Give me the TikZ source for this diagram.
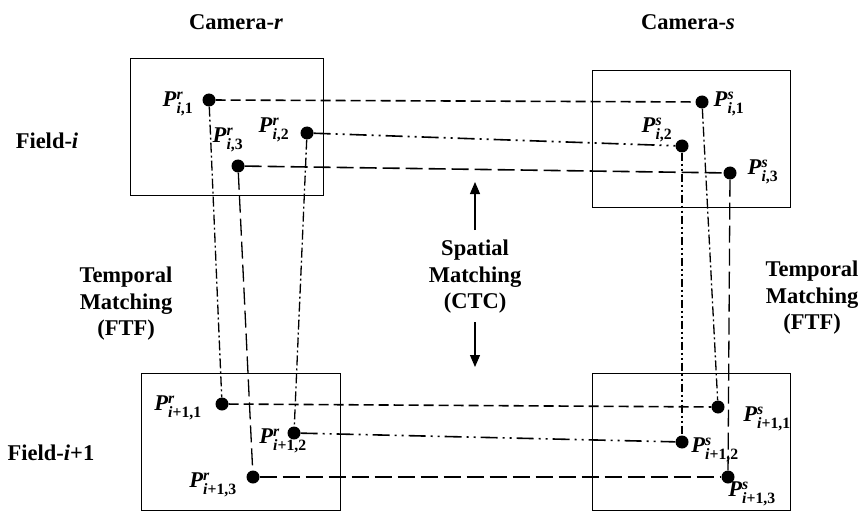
\documentclass[tikz,border=0pt]{standalone}
\usepackage{amsmath}
\usepackage{fontspec}
\setmainfont{Liberation Serif}
\usetikzlibrary{arrows.meta}
\tikzset{
  dot/.style={circle,fill=black,inner sep=0pt,minimum size=13pt},
  lbl/.style={font=\fontsize{22.5}{26.5}\selectfont\bfseries,inner sep=0pt,align=center},
  frame/.style={draw=black,line width=1.1pt,inner sep=0pt,anchor=north west},
  shortdash/.style={line width=1.6pt,dash pattern=on 10pt off 5pt},
  longdash/.style={line width=1.6pt,dash pattern=on 17pt off 6pt},
  dashdotdot/.style={line width=1.6pt,dash pattern=on 17pt off 5pt on 2pt off 5pt on 2pt off 5pt},
  dashdot/.style={line width=1.3pt,dash pattern=on 10pt off 3pt on 2pt off 3pt},
  vdashdotdot/.style={line width=1.3pt,dash pattern=on 8pt off 3pt on 2pt off 3pt on 2pt off 3pt},
  arr/.style={line width=1.1pt,-{Triangle[length=12pt,width=10pt]}}
}
\newcommand{\Pl}[2]{\textit{P}$^{\text{\bfseries\itshape #1}}_{\text{\bfseries #2}}$}
\begin{document}
\begin{tikzpicture}[x=1pt,y=-1pt]
\useasboundingbox (0,0) rectangle (861,513);
% frames
\node[frame,minimum width=193pt,minimum height=137pt] (boxTL) at (130,58) {};
\node[frame,minimum width=198pt,minimum height=137pt] (boxTR) at (592,70) {};
\node[frame,minimum width=199pt,minimum height=137pt] (boxBL) at (141,373) {};
\node[frame,minimum width=198pt,minimum height=137pt] (boxBR) at (592,373) {};
% titles
\node[lbl] (camr) at (236,22) {Camera-\textit{r}};
\node[lbl] (cams) at (688,22) {Camera-\textit{s}};
\node[lbl] (fi) at (47,141) {Field-\textit{i}};
\node[lbl] (fi1) at (51,453) {Field-\textit{i}+1};
\node[lbl] (tl) at (126,304) {Temporal\\Matching\\(FTF)};
\node[lbl] (tr) at (812,298) {Temporal\\Matching\\(FTF)};
\node[lbl] (sp) at (475,277) {Spatial\\Matching\\(CTC)};
% dots
\node[dot] (r1) at (209,100) {};
\node[dot] (r2) at (307,133) {};
\node[dot] (r3) at (238,166) {};
\node[dot] (s1) at (702,102) {};
\node[dot] (s2) at (682,146) {};
\node[dot] (s3) at (730,173) {};
\node[dot] (R1) at (222,404) {};
\node[dot] (R2) at (294,433) {};
\node[dot] (R3) at (253,477) {};
\node[dot] (S1) at (718,407) {};
\node[dot] (S2) at (682,442) {};
\node[dot] (S3) at (728,477) {};
% point labels
\node[lbl] (lr1) at (178,104) {\Pl{r}{\textit{i},1}};
\node[lbl] (lr2) at (274,130) {\Pl{r}{\textit{i},2}};
\node[lbl] (lr3) at (228,140) {\Pl{r}{\textit{i},3}};
\node[lbl] (ls1) at (729,104) {\Pl{s}{\textit{i},1}};
\node[lbl] (ls2) at (657,130) {\Pl{s}{\textit{i},2}};
\node[lbl] (ls3) at (763,172) {\Pl{s}{\textit{i},3}};
\node[lbl] (lR1) at (178,408) {\Pl{r}{\textit{i}+1,1}};
\node[lbl] (lR2) at (283,441) {\Pl{r}{\textit{i}+1,2}};
\node[lbl] (lR3) at (213,485) {\Pl{r}{\textit{i}+1,3}};
\node[lbl] (lS1) at (767,419) {\Pl{s}{\textit{i}+1,1}};
\node[lbl] (lS2) at (715,450) {\Pl{s}{\textit{i}+1,2}};
\node[lbl] (lS3) at (752,494) {\Pl{s}{\textit{i}+1,3}};
% spatial connectors
\draw[shortdash] (r1) -- (s1);
\draw[dashdotdot] (r2) -- (s2);
\draw[longdash] (r3) -- (s3);
\draw[shortdash] (R1) -- (S1);
\draw[dashdotdot] (R2) -- (S2);
\draw[longdash] (R3) -- (S3);
% temporal connectors
\draw[dashdot] (r1) -- (R1);
\draw[dashdot] (r2) -- (R2);
\draw[longdash,line width=1.3pt] (r3) -- (R3);
\draw[vdashdotdot] (s2) -- (S2);
\draw[dashdot] (s1) -- (S1);
\draw[longdash,line width=1.3pt] (s3) -- (S3);
% CTC arrows
\coordinate (upA) at (475,230);
\coordinate (upB) at (475,182);
\coordinate (dnA) at (475,322);
\coordinate (dnB) at (475,367);
\draw[arr] (upA) -- (upB);
\draw[arr] (dnA) -- (dnB);
\end{tikzpicture}
\end{document}
